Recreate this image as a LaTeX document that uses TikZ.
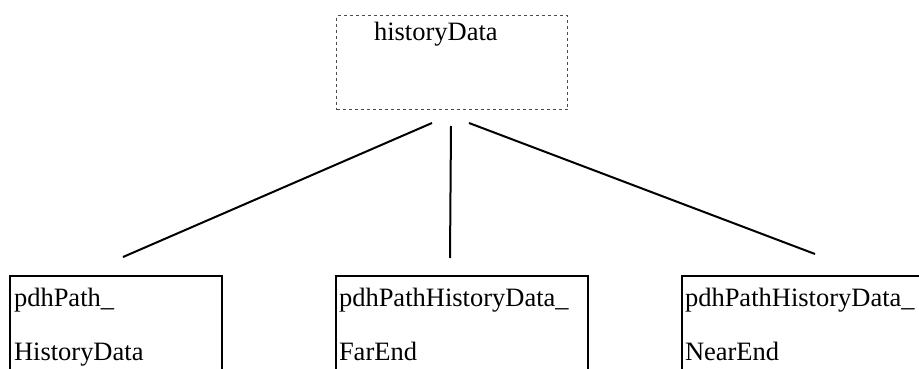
\documentclass[tikz,border=0pt]{standalone}
\usepackage{fontspec}
\setmainfont{Liberation Serif}
\begin{document}
\begin{tikzpicture}[x=1pt,y=-1pt,line width=2pt,
            top box/.style={draw=black!70,dash pattern=on 3pt off 3pt,line width=1.3pt,
              minimum width=231pt,minimum height=94pt,anchor=north west,inner sep=0pt},
            child box/.style={draw,minimum height=130pt,anchor=north west,inner sep=0pt},
            box text/.style={anchor=base west,inner sep=0pt,font=\fontsize{26.5}{30}\selectfont}]

        \useasboundingbox (0,0) rectangle (919,369);
        \clip (0,0) rectangle (919,369);

        % Define boxes
        \node[top box] (hist) at (336,15) {};
        \node[child box,minimum width=212pt] (path) at (9,275) {};
        \node[child box,minimum width=252pt] (far) at (335,275) {};
        \node[child box,minimum width=300pt] (near) at (681,275) {};

        % Box texts
        \node[box text] (histtxt) at (373,41) {historyData};
        \node[box text] (pathtxt1) at (13,306) {pdhPath\_};
        \node[box text] (pathtxt2) at (13,360) {HistoryData};
        \node[box text] (fartxt1) at (338,306) {pdhPathHistoryData\_};
        \node[box text] (fartxt2) at (338,360) {FarEnd};
        \node[box text] (neartxt1) at (684,306) {pdhPathHistoryData\_};
        \node[box text] (neartxt2) at (684,360) {NearEnd};

        % Line ends
        \coordinate (h1) at (432,123);
        \coordinate (h2) at (451,126);
        \coordinate (h3) at (469,123);
        \coordinate (c1) at (123,257);
        \coordinate (c2) at (450,258);
        \coordinate (c3) at (815,254);

        % Draw edges
        \draw (h1) -- (c1);
        \draw (h2) -- (c2);
        \draw (h3) -- (c3);

        \end{tikzpicture}
\end{document}
